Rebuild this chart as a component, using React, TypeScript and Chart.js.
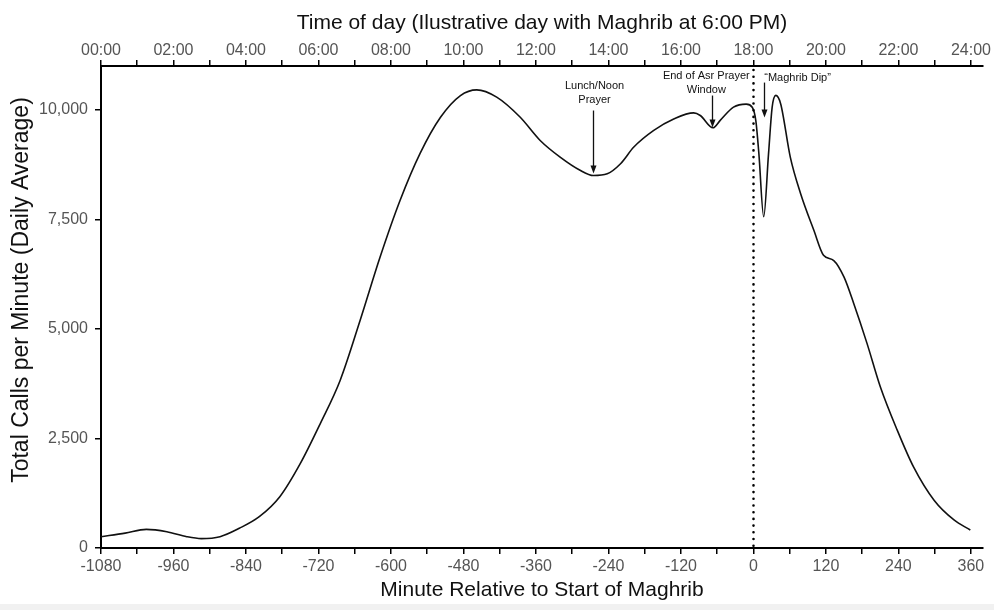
import React, { useEffect, useRef } from "react";
import { Chart, registerables } from "chart.js";

Chart.register(...registerables);

// Minute relative to start of Maghrib
const minutes = [
  -1080, -1040, -1005, -971, -938, -914, -883, -851, -818, -784, -750, -717, -684, -651, -618, -585, -552, -518,
  -485, -458, -425, -386, -353, -320, -287, -265, -242, -220, -198, -165, -132, -99, -88, -67, -55, -33, -12,
  -2, 4, 9, 17, 25, 31, 37, 45, 61, 78, 100, 116, 133, 150, 166, 188, 210, 238, 265, 299, 332, 359,
];
// Total calls per minute (daily average)
const calls = [
  258, 340, 426, 372, 258, 215, 258, 450, 714, 1170, 1930, 2840, 3830, 5197, 6640, 7930, 9000, 9830,
  10326, 10456, 10290, 9830, 9300, 8920, 8620, 8500, 8540, 8770, 9150, 9530, 9790, 9930, 9870, 9590, 9760, 10060, 10130,
  10060, 9750, 9000, 7560, 9000, 10060, 10330, 10140, 8920, 8090, 7250, 6680, 6560, 6180, 5580, 4670, 3680, 2690, 1850, 1090, 640, 410,
];

const bottomTickValues = [-1080, -1020, -960, -900, -840, -780, -720, -660, -600, -540, -480, -420, -360, -300, -240, -180, -120, -60, 0, 60, 120, 180, 240, 300, 360];
const bottomTickLabels = ["-1080", "", "-960", "", "-840", "", "-720", "", "-600", "", "-480", "", "-360", "", "-240", "", "-120", "", "0", "", "120", "", "240", "", "360"];
const topTickLabels = ["00:00", "", "02:00", "", "04:00", "", "06:00", "", "08:00", "", "10:00", "", "12:00", "", "14:00", "", "16:00", "", "18:00", "", "20:00", "", "22:00", "", "24:00"];
const yTickValues = [0, 2500, 5000, 7500, 10000];
const yTitle = "Total Calls per Minute (Daily Average)";

const noteLines = [["Lunch/Noon", "Prayer"], ["End of Asr Prayer", "Window"], ["\u201CMaghrib Dip\u201D"]];
const noteArrowMinute = [-265, -68, 18];
const noteArrowTip = [8548, 9597, 9825];
const noteArrowTail = [9984, 10326, 10622];
const noteTextMinute = [-263, -78, 73];
const noteTextValue = [10554, 10782, 10736];

const FONT = "'Liberation Sans', Arial, Helvetica, sans-serif";

export default function App() {
  const ref = useRef<HTMLCanvasElement | null>(null);

  useEffect(() => {
    if (!ref.current) return;

    const extras = {
      id: "extras",
      beforeDraw(chart: any) {
        const { ctx } = chart;
        ctx.save();
        ctx.fillStyle = "#ffffff";
        ctx.fillRect(0, 0, chart.width, chart.height);
        ctx.fillStyle = "#f1f1f1";
        ctx.fillRect(0, chart.height - 6, chart.width, 6);
        ctx.restore();
      },
      afterDraw(chart: any) {
        const { ctx, chartArea } = chart;
        ctx.save();
        ctx.translate(22, (chartArea.top + chartArea.bottom) / 2 - 17);
        ctx.rotate(-Math.PI / 2);
        ctx.font = `23px ${FONT}`;
        ctx.fillStyle = "#111";
        ctx.textAlign = "center";
        ctx.textBaseline = "middle";
        ctx.fillText(yTitle, 0, 0);
        ctx.restore();
      },
      afterDatasetsDraw(chart: any) {
        const { ctx, chartArea } = chart;
        const xs = chart.scales.x;
        const ys = chart.scales.y;
        ctx.save();
        // dotted Maghrib line
        const x0 = Math.round(xs.getPixelForValue(0)) + 0.5;
        ctx.strokeStyle = "#000";
        ctx.lineWidth = 2.6;
        ctx.lineCap = "round";
        ctx.setLineDash([0, 6.7]);
        ctx.beginPath();
        ctx.moveTo(x0, chartArea.top + 4);
        ctx.lineTo(x0, chartArea.bottom);
        ctx.stroke();
        ctx.setLineDash([]);
        ctx.lineCap = "butt";

        // annotations
        ctx.font = `11px ${FONT}`;
        ctx.fillStyle = "#111";
        ctx.textAlign = "center";
        ctx.textBaseline = "middle";
        for (let i = 0; i < noteLines.length; i++) {
          const tx = xs.getPixelForValue(noteTextMinute[i]);
          const ty = ys.getPixelForValue(noteTextValue[i]);
          noteLines[i].forEach((line, k) => ctx.fillText(line, tx, ty + k * 14));
          const ax = Math.round(xs.getPixelForValue(noteArrowMinute[i])) + 0.5;
          const tipY = ys.getPixelForValue(noteArrowTip[i]);
          const tailY = ys.getPixelForValue(noteArrowTail[i]);
          ctx.strokeStyle = "#111";
          ctx.lineWidth = 1.3;
          ctx.beginPath();
          ctx.moveTo(ax, tailY);
          ctx.lineTo(ax, tipY - 6);
          ctx.stroke();
          ctx.beginPath();
          ctx.moveTo(ax, tipY);
          ctx.lineTo(ax - 3, tipY - 8);
          ctx.lineTo(ax + 3, tipY - 8);
          ctx.closePath();
          ctx.fill();
        }
        ctx.restore();
      },
    };

    const chart = new Chart(ref.current, {
      type: "line",
      data: {
        datasets: [
          {
            data: minutes.map((m, i) => ({ x: m, y: calls[i] })),
            borderColor: "#111",
            borderWidth: 1.6,
            pointRadius: 0,
            fill: false,
            cubicInterpolationMode: "monotone",
          },
        ],
      },
      options: {
        animation: false,
        responsive: true,
        maintainAspectRatio: false,
        layout: { padding: { left: 0, right: 11, top: 0, bottom: 0 } },
        plugins: { legend: { display: false }, tooltip: { enabled: false } },
        scales: {
          x: {
            type: "linear",
            position: "bottom",
            min: -1080,
            max: 380,
            afterBuildTicks: (s: any) => {
              s.ticks = bottomTickValues.map((v) => ({ value: v }));
            },
            afterFit: (s: any) => {
              s.height = 62;
            },
            ticks: {
              autoSkip: false,
              maxRotation: 0,
              padding: 3,
              color: "#555",
              font: { family: FONT, size: 16 },
              callback: (v: any) => {
                const i = bottomTickValues.indexOf(Number(v));
                return i >= 0 ? bottomTickLabels[i] : "";
              },
            },
            grid: { drawOnChartArea: false, drawTicks: true, tickLength: 6, color: "#000", lineWidth: 1.5 },
            border: { display: true, color: "#000", width: 2 },
            title: {
              display: true,
              text: "Minute Relative to Start of Maghrib",
              color: "#111",
              font: { family: FONT, size: 21 },
              padding: { top: 0, bottom: 7 },
            },
          },
          xTop: {
            type: "linear",
            position: "top",
            min: -1080,
            max: 380,
            afterBuildTicks: (s: any) => {
              s.ticks = bottomTickValues.map((v) => ({ value: v }));
            },
            afterFit: (s: any) => {
              s.height = 66;
            },
            ticks: {
              autoSkip: false,
              maxRotation: 0,
              padding: 0,
              color: "#555",
              font: { family: FONT, size: 16 },
              callback: (v: any) => {
                const i = bottomTickValues.indexOf(Number(v));
                return i >= 0 ? topTickLabels[i] : "";
              },
            },
            grid: { drawOnChartArea: false, drawTicks: true, tickLength: 6, color: "#000", lineWidth: 1.5 },
            border: { display: true, color: "#000", width: 2 },
            title: {
              display: true,
              text: "Time of day (Ilustrative day with Maghrib at 6:00 PM)",
              color: "#111",
              font: { family: FONT, size: 21 },
              padding: { top: 11, bottom: 0 },
            },
          },
          y: {
            type: "linear",
            position: "left",
            min: 0,
            max: 11000,
            afterBuildTicks: (s: any) => {
              s.ticks = yTickValues.map((v) => ({ value: v }));
            },
            afterFit: (s: any) => {
              s.width = 101;
            },
            ticks: {
              padding: 7,
              color: "#555",
              font: { family: FONT, size: 16 },
              callback: (v: any) => Number(v).toLocaleString("en-US"),
            },
            grid: { drawOnChartArea: false, drawTicks: true, tickLength: 6, color: "#000", lineWidth: 1.5 },
            border: { display: true, color: "#000", width: 2 },
            title: { display: false },
          },
        },
      } as any,
      plugins: [extras],
    });

    return () => chart.destroy();
  }, []);

  return (
    <div style={{ position: "fixed", left: 0, top: 0, width: 994, height: 610, background: "#fff" }}>
      <canvas ref={ref} />
    </div>
  );
}
